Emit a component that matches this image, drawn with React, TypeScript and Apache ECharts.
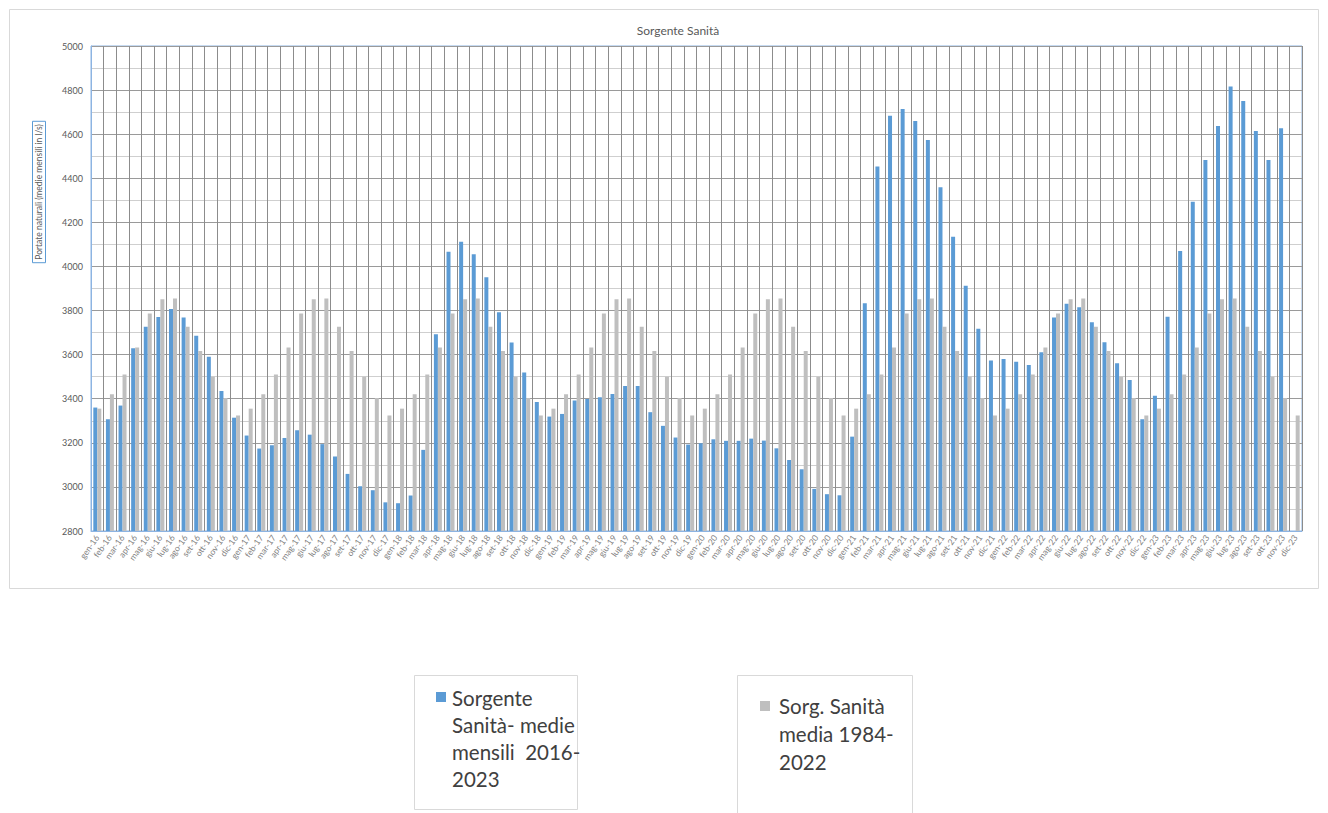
import React, { useEffect, useRef } from "react";
import * as echarts from "echarts";

const months = ["gen", "feb", "mar", "apr", "mag", "giu", "lug", "ago", "set", "ott", "nov", "dic"];
const years = ["16", "17", "18", "19", "20", "21", "22", "23"];
const categories = years.flatMap((y) => months.map((m) => `${m}-${y}`));

// Sorgente Sanità - medie mensili 2016-2023 (l/s)
const monthly2016_2023 = [
  3360, 3307, 3369, 3629, 3727, 3771, 3807, 3768, 3686, 3590, 3435, 3314,
  3233, 3174, 3189, 3222, 3257, 3237, 3194, 3138, 3059, 3003, 2985, 2930,
  2926, 2961, 3168, 3692, 4067, 4112, 4055, 3951, 3792, 3655, 3519, 3385,
  3319, 3331, 3392, 3399, 3407, 3422, 3458, 3458, 3339, 3277, 3224, 3192,
  3198, 3216, 3209, 3209, 3219, 3210, 3175, 3122, 3080, 2991, 2967, 2962,
  3228, 3833, 4453, 4684, 4714, 4660, 4574, 4359, 4135, 3913, 3717, 3573,
  3580, 3568, 3553, 3611, 3768, 3831, 3815, 3747, 3656, 3561, 3485, 3307,
  3414, 3772, 4070, 4293, 4483, 4637, 4816, 4751, 4615, 4483, 4627, null,
];

// Sorg. Sanità media 1984-2022, one value per calendar month (gen..dic)
const longTermMean = [3355, 3420, 3510, 3632, 3787, 3851, 3855, 3726, 3617, 3500, 3403, 3324];
const longTermSeries = categories.map((_, i) => longTermMean[i % 12]);

const blueName = "Sorgente Sanità- medie mensili 2016-2023";
const grayName = "Sorg. Sanità media 1984-2022";

export default function App() {
  const ref = useRef<HTMLDivElement>(null);
  useEffect(() => {
    document.body.style.margin = "0";
    if (!ref.current) return;
    const chart = echarts.init(ref.current, null, { renderer: "svg" });
    const font = "Lato";
    chart.setOption({
      animation: false,
      backgroundColor: "#ffffff",
      textStyle: { fontFamily: font },
      title: {
        text: "Sorgente Sanità",
        left: 673,
        textAlign: "center",
        top: 19,
        textStyle: { fontSize: 12, fontWeight: "normal", color: "#595959", fontFamily: font },
      },
      grid: {
        left: 91,
        right: 26,
        top: 46,
        bottom: 282,
        show: true,
        borderColor: "#8db4e2",
        borderWidth: 1,
        backgroundColor: "transparent",
      },
      xAxis: {
        type: "category",
        data: categories,
        axisLine: { show: true, lineStyle: { color: "#8db4e2" } },
        axisTick: { show: false },
        splitLine: { show: true, interval: 0, lineStyle: { color: "#8c8c8c", width: 1 } },
        axisLabel: { interval: 0, rotate: 55, fontSize: 8.5, color: "#7f7f7f", margin: 5, fontFamily: font },
      },
      yAxis: {
        type: "value",
        min: 2800,
        max: 5000,
        interval: 200,
        axisLine: { show: true, lineStyle: { color: "#8db4e2" } },
        axisTick: { show: false },
        axisLabel: { fontSize: 9, color: "#595959", margin: 8, fontFamily: font, formatter: (v: number) => String(v) },
        splitLine: { show: true, lineStyle: { color: "#9a9a9a" } },
        minorTick: { show: false, splitNumber: 2 },
        minorSplitLine: { show: true, lineStyle: { color: "#cfcfcf" } },
      },
      series: [
        {
          name: blueName,
          type: "bar",
          data: monthly2016_2023,
          barWidth: 4,
          barGap: "0%",
          itemStyle: { color: "#5b9bd5" },
        },
        {
          name: grayName,
          type: "bar",
          data: longTermSeries,
          barWidth: 4,
          barGap: "0%",
          itemStyle: { color: "#bfbfbf" },
        },
      ],
      graphic: [
        {
          type: "rect",
          z: -10,
          silent: true,
          shape: { x: 9.5, y: 9.5, width: 1309, height: 579 },
          style: { fill: "none", stroke: "#d9d9d9", lineWidth: 1 },
        },
        {
          type: "text",
          x: 39,
          y: 192,
          rotation: Math.PI / 2,
          style: {
            text: "Portate naturali (medie mensili in l/s)",
            fill: "#595959",
            font: `8.5px ${font}`,
            align: "center",
            verticalAlign: "middle",
            borderColor: "#5b9bd5",
            borderWidth: 1,
            padding: [2, 3],
          },
        },
        {
          type: "rect",
          shape: { x: 414.5, y: 675.5, width: 163, height: 134 },
          style: { fill: "#ffffff", stroke: "#d9d9d9", lineWidth: 1 },
        },
        {
          type: "rect",
          shape: { x: 436, y: 692, width: 10, height: 10 },
          style: { fill: "#5b9bd5" },
        },
        {
          type: "text",
          x: 452,
          y: 684,
          style: {
            text: "Sorgente\nSanità- medie\nmensili  2016-\n2023",
            fill: "#404040",
            font: `20.5px ${font}`,
            lineHeight: 27,
            align: "left",
            verticalAlign: "top",
          },
        },
        {
          type: "rect",
          shape: { x: 737.5, y: 675.5, width: 175, height: 140 },
          style: { fill: "#ffffff", stroke: "#d9d9d9", lineWidth: 1 },
        },
        {
          type: "rect",
          shape: { x: 760, y: 701, width: 10, height: 10 },
          style: { fill: "#bfbfbf" },
        },
        {
          type: "text",
          x: 779,
          y: 692,
          style: {
            text: "Sorg. Sanità\nmedia 1984-\n2022",
            fill: "#404040",
            font: `20.5px ${font}`,
            lineHeight: 28,
            align: "left",
            verticalAlign: "top",
          },
        },
      ],
    });
    return () => chart.dispose();
  }, []);
  return <div ref={ref} style={{ width: 1328, height: 813 }} />;
}
